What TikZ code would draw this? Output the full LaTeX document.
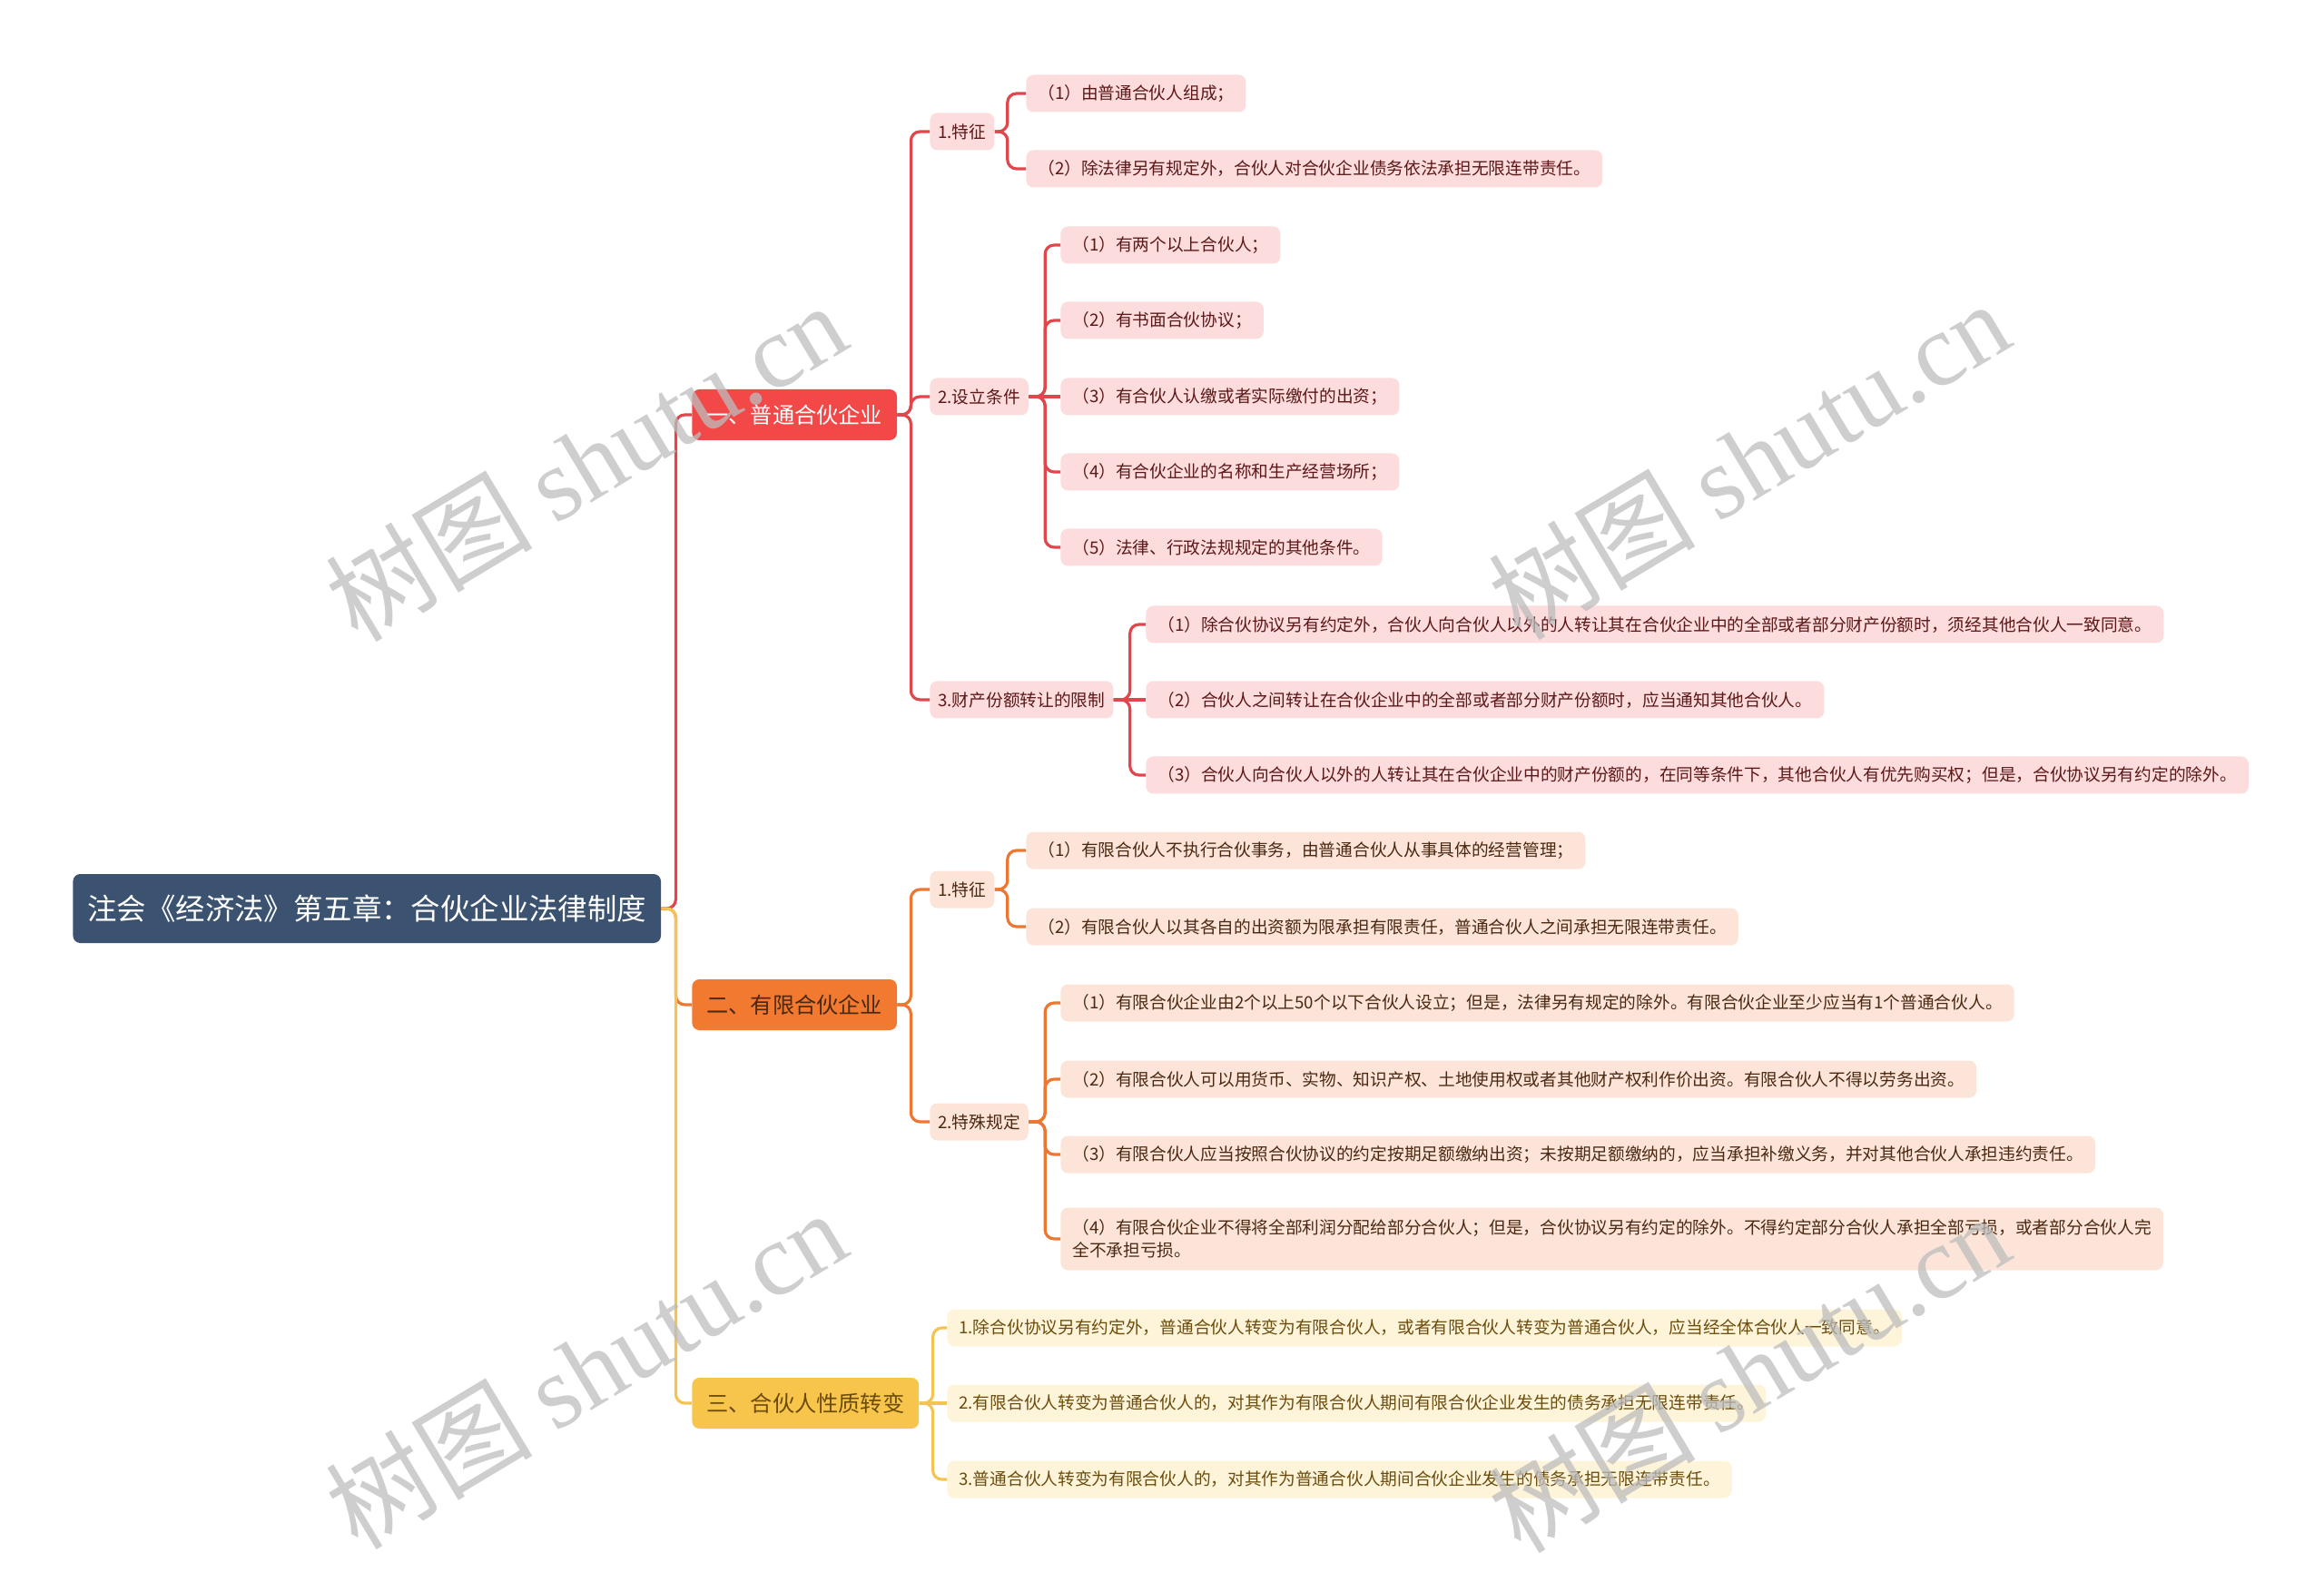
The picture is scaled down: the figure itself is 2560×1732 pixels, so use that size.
\documentclass[tikz,border=0pt]{standalone}
\usepackage{fontspec}
\setmainfont{Noto Sans CJK SC}
\newfontfamily\wmlatin{Liberation Serif}
\usetikzlibrary{positioning}

\definecolor{rootblue}{HTML}{3B5370}
\definecolor{redmain}{HTML}{F24848}
\definecolor{redln}{HTML}{E0464B}
\definecolor{redleaf}{HTML}{FCDCDC}
\definecolor{redtext}{HTML}{5C1818}
\definecolor{orgmain}{HTML}{F27A30}
\definecolor{orgln}{HTML}{EC7632}
\definecolor{orgleaf}{HTML}{FCE5D8}
\definecolor{orgtext}{HTML}{4A2812}
\definecolor{ylwmain}{HTML}{F7C44C}
\definecolor{ylwln}{HTML}{F4C452}
\definecolor{ylwleaf}{HTML}{FEF4DA}
\definecolor{ylwtext}{HTML}{6B4C0C}
\definecolor{wmgray}{HTML}{BDBDBD}

\begin{document}
\begin{tikzpicture}[
        x=0.5pt, y=-0.5pt,
        base/.style={
            rectangle,
            rounded corners=4pt,
            anchor=west,
            inner ysep=0pt,
            align=left
        },
        rootbox/.style={
            base,
            fill=rootblue,
            text=white,
            minimum height=38pt,
            inner xsep=8pt,
            font=\fontsize{16.2}{19}\selectfont
        },
        mainbox/.style={
            base,
            minimum height=28pt,
            inner xsep=8pt,
            font=\fontsize{12.1}{14}\selectfont
        },
        subbox/.style={
            base,
            minimum height=20.5pt,
            inner xsep=4.5pt,
            font=\fontsize{9.35}{12.25}\selectfont
        },
        leafbox/.style={
            subbox,
            inner xsep=6.5pt
        },
        redsub/.style={subbox, fill=redleaf, text=redtext},
        redleafbox/.style={leafbox, fill=redleaf, text=redtext},
        orgsub/.style={subbox, fill=orgleaf, text=orgtext},
        orgleafbox/.style={leafbox, fill=orgleaf, text=orgtext},
        ylwleafbox/.style={leafbox, fill=ylwleaf, text=ylwtext},
        redlink/.style={draw=redln, line width=1.6pt, rounded corners=5pt},
        orglink/.style={draw=orgln, line width=1.6pt, rounded corners=5pt},
        ylwlink/.style={draw=ylwln, line width=1.6pt, rounded corners=5pt},
        wmark/.style={
            text=wmgray,
            text opacity=0.75,
            rotate=31,
            font=\fontsize{57}{57}\selectfont
        }
    ]

    \useasboundingbox (0,0) rectangle (2560,1732);

    % Nodes
    \node[rootbox] (root) at (80,1001) {注会《经济法》第五章：合伙企业法律制度};

    \node[mainbox, fill=redmain, text=white] (gp) at (762,457) {一、普通合伙企业};
    \node[mainbox, fill=orgmain, text=orgtext] (lp) at (762,1107) {二、有限合伙企业};
    \node[mainbox, fill=ylwmain, text=ylwtext] (conv) at (762,1546) {三、合伙人性质转变};

    \node[redsub] (gpfeat) at (1024,145) {1.特征};
    \node[redsub] (gpcond) at (1024,437) {2.设立条件};
    \node[redsub] (gptrans) at (1024,771) {3.财产份额转让的限制};

    \node[redleafbox] (gpfeat1) at (1130,103) {（1）由普通合伙人组成；};
    \node[redleafbox] (gpfeat2) at (1130,186) {（2）除法律另有规定外，合伙人对合伙企业债务依法承担无限连带责任。};

    \node[redleafbox] (gpcond1) at (1168,270) {（1）有两个以上合伙人；};
    \node[redleafbox] (gpcond2) at (1168,353) {（2）有书面合伙协议；};
    \node[redleafbox] (gpcond3) at (1168,437) {（3）有合伙人认缴或者实际缴付的出资；};
    \node[redleafbox] (gpcond4) at (1168,520) {（4）有合伙企业的名称和生产经营场所；};
    \node[redleafbox] (gpcond5) at (1168,603) {（5）法律、行政法规规定的其他条件。};

    \node[redleafbox] (gptrans1) at (1262,688) {（1）除合伙协议另有约定外，合伙人向合伙人以外的人转让其在合伙企业中的全部或者部分财产份额时，须经其他合伙人一致同意。};
    \node[redleafbox] (gptrans2) at (1262,771) {（2）合伙人之间转让在合伙企业中的全部或者部分财产份额时，应当通知其他合伙人。};
    \node[redleafbox] (gptrans3) at (1262,854) {（3）合伙人向合伙人以外的人转让其在合伙企业中的财产份额的，在同等条件下，其他合伙人有优先购买权；但是，合伙协议另有约定的除外。};

    \node[orgsub] (lpfeat) at (1024,980) {1.特征};
    \node[orgsub] (lpspec) at (1024,1236) {2.特殊规定};

    \node[orgleafbox] (lpfeat1) at (1130,937) {（1）有限合伙人不执行合伙事务，由普通合伙人从事具体的经营管理；};
    \node[orgleafbox] (lpfeat2) at (1130,1021) {（2）有限合伙人以其各自的出资额为限承担有限责任，普通合伙人之间承担无限连带责任。};

    \node[orgleafbox] (lpspec1) at (1168,1105) {（1）有限合伙企业由2个以上50个以下合伙人设立；但是，法律另有规定的除外。有限合伙企业至少应当有1个普通合伙人。};
    \node[orgleafbox] (lpspec2) at (1168,1189) {（2）有限合伙人可以用货币、实物、知识产权、土地使用权或者其他财产权利作价出资。有限合伙人不得以劳务出资。};
    \node[orgleafbox] (lpspec3) at (1168,1272) {（3）有限合伙人应当按照合伙协议的约定按期足额缴纳出资；未按期足额缴纳的，应当承担补缴义务，并对其他合伙人承担违约责任。};
    \node[orgleafbox, minimum height=34.5pt] (lpspec4) at (1168,1365) {（4）有限合伙企业不得将全部利润分配给部分合伙人；但是，合伙协议另有约定的除外。不得约定部分合伙人承担全部亏损，或者部分合伙人完\\全不承担亏损。};

    \node[ylwleafbox] (conv1) at (1043,1463) {1.除合伙协议另有约定外，普通合伙人转变为有限合伙人，或者有限合伙人转变为普通合伙人，应当经全体合伙人一致同意。};
    \node[ylwleafbox] (conv2) at (1043,1546) {2.有限合伙人转变为普通合伙人的，对其作为有限合伙人期间有限合伙企业发生的债务承担无限连带责任。};
    \node[ylwleafbox] (conv3) at (1043,1630) {3.普通合伙人转变为有限合伙人的，对其作为普通合伙人期间合伙企业发生的债务承担无限连带责任。};

    % Links
    \draw[redlink] (root.east) -- ++(16,0) |- (gp.west);
    \draw[orglink] (root.east) -- ++(16,0) |- (lp.west);
    \draw[ylwlink] (root.east) -- ++(16,0) |- (conv.west);

    \foreach \c in {gpfeat,gpcond,gptrans}
        \draw[redlink] (gp.east) -- ++(15,0) |- (\c.west);
    \foreach \c in {gpfeat1,gpfeat2}
        \draw[redlink] (gpfeat.east) -- ++(14,0) |- (\c.west);
    \foreach \c in {gpcond1,gpcond2,gpcond4,gpcond5}
        \draw[redlink] (gpcond.east) -- ++(18,0) |- (\c.west);
    \draw[redlink] (gpcond.east) -- (gpcond3.west);
    \foreach \c in {gptrans1,gptrans3}
        \draw[redlink] (gptrans.east) -- ++(18,0) |- (\c.west);
    \draw[redlink] (gptrans.east) -- (gptrans2.west);

    \foreach \c in {lpfeat,lpspec}
        \draw[orglink] (lp.east) -- ++(15,0) |- (\c.west);
    \foreach \c in {lpfeat1,lpfeat2}
        \draw[orglink] (lpfeat.east) -- ++(14,0) |- (\c.west);
    \foreach \c in {lpspec1,lpspec2,lpspec3,lpspec4}
        \draw[orglink] (lpspec.east) -- ++(18,0) |- (\c.west);

    \foreach \c in {conv1,conv3}
        \draw[ylwlink] (conv.east) -- ++(15,0) |- (\c.west);
    \draw[ylwlink] (conv.east) -- (conv2.west);

    % Watermarks
    \foreach \wx/\wy in {645/508, 1926/506, 645/1508, 1926/1512}
        \node[wmark] at (\wx,\wy) {树图 {\wmlatin shutu.cn}};

\end{tikzpicture}
\end{document}
